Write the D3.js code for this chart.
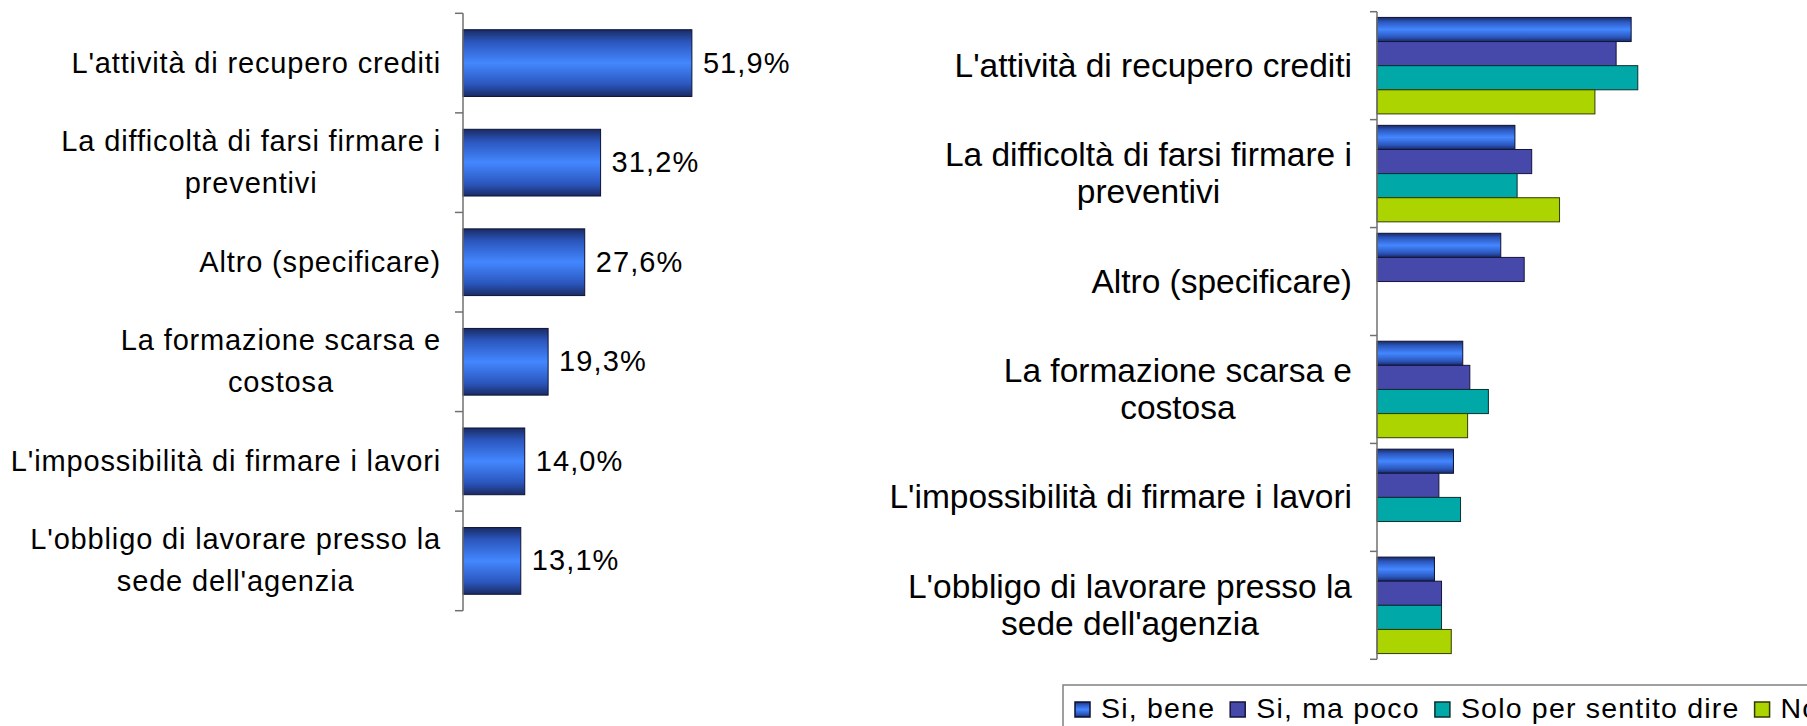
<!DOCTYPE html>
<html>
<head>
<meta charset="utf-8">
<script src="https://cdn.jsdelivr.net/npm/d3@7"></script>
<style>
  body { margin: 0; background: #fff; }
  svg { display: block; font-family: "Liberation Sans", Arial, sans-serif; }
</style>
</head>
<body>
<svg id="svg1" width="1807" height="726"></svg>
<script>
// categories (same for both charts), "\n" = line break in the label
var categories = [
  "L'attività di recupero crediti",
  "La difficoltà di farsi firmare i\npreventivi",
  "Altro (specificare)",
  "La formazione scarsa e\ncostosa",
  "L'impossibilità di firmare i lavori",
  "L'obbligo di lavorare presso la\nsede dell'agenzia"
];

// left chart: totals
var totals = [51.9, 31.2, 27.6, 19.3, 14.0, 13.1];

// right chart: one array per series (null = no bar)
var seriesNames = ["Si, bene", "Si, ma poco", "Solo per sentito dire", "No"];
var siBene      = [57.5, 31.2, 28.0, 19.4, 17.3, 13.0];
var siMaPoco    = [54.1, 35.0, 33.3, 21.0, 14.0, 14.6];
var soloSentito = [59.0, 31.7, null, 25.2, 18.9, 14.6];
var nonSo       = [49.3, 41.3, null, 20.5, null, 16.8];

var seriesValues = [siBene, siMaPoco, soloSentito, nonSo];
var seriesFill = ["url(#blueGrad)", "#4649a9", "#00a8a8", "#acd400"];
var seriesStroke = ["#0d1236", "#14143c", "#0a3030", "#333a00"];

var itFormat = d3.formatLocale({decimal: ",", thousands: ".", grouping: [3], currency: ["€", ""]}).format(".1f");

var svg = d3.select('svg');

// gradient used by the blue bars
var defs = svg.append('defs');
var grad = defs.append('linearGradient')
    .attr('id', 'blueGrad')
    .attr('x1', 0).attr('y1', 0).attr('x2', 0).attr('y2', 1);
[[0, '#1a2b63'], [0.18, '#2b56bd'], [0.5, '#4387ff'], [0.82, '#2b56bd'], [1, '#1a2b63']].forEach(function(s){
  grad.append('stop').attr('offset', s[0]).attr('stop-color', s[1]);
});

// category labels: block right aligned at xEnd, lines centred inside the block
function drawCategoryLabels(g, y, xEnd, fontSize, lineGap, spacing) {
  categories.forEach(function(c){
    var lines = c.split('\n');
    var center = y(c) + y.bandwidth() / 2;
    var texts = lines.map(function(line, j){
      return g.append('text')
        .attr('y', center + 0.33 * fontSize + (j - (lines.length - 1) / 2) * lineGap)
        .attr('text-anchor', 'middle')
        .attr('font-size', fontSize)
        .attr('letter-spacing', spacing)
        .attr('fill', '#000')
        .text(line);
    });
    var maxW = d3.max(texts, function(t){ return t.node().getComputedTextLength(); });
    texts.forEach(function(t){ t.attr('x', xEnd - maxW / 2); });
  });
}

function drawAxis(g, x0, y, tickLen) {
  var r = y.range();
  var step = (r[1] - r[0]) / categories.length;
  g.append('line')
    .attr('x1', x0).attr('x2', x0)
    .attr('y1', r[0]).attr('y2', r[1])
    .attr('stroke', '#707070').attr('stroke-width', 1.5);
  d3.range(categories.length + 1).forEach(function(i){
    g.append('line')
      .attr('x1', x0 - tickLen).attr('x2', x0)
      .attr('y1', r[0] + i * step).attr('y2', r[0] + i * step)
      .attr('stroke', '#707070').attr('stroke-width', 1.5);
  });
}

// ---------- left chart ----------
var left = svg.append('g');

var xL = d3.scaleLinear().domain([0, 100]).range([463, 904]);
var yL = d3.scaleBand()
    .domain(categories)
    .range([13.3, 610.7])
    .paddingInner(0.33)
    .paddingOuter(0.165);

left.selectAll('rect.bar')
    .data(totals)
    .enter()
    .append('rect')
    .attr('class', 'bar')
    .attr('x', xL(0))
    .attr('y', function(d, i){ return yL(categories[i]); })
    .attr('width', function(d){ return xL(d) - xL(0); })
    .attr('height', yL.bandwidth())
    .attr('fill', 'url(#blueGrad)')
    .attr('stroke', '#0d1236')
    .attr('stroke-width', 1);

left.selectAll('text.val')
    .data(totals)
    .enter()
    .append('text')
    .attr('class', 'val')
    .attr('x', function(d){ return xL(d) + 11; })
    .attr('y', function(d, i){ return yL(categories[i]) + yL.bandwidth() / 2 + 0.33 * 29; })
    .attr('font-size', 29)
    .attr('letter-spacing', 1.1)
    .text(function(d){ return itFormat(d) + '%'; });

drawAxis(left, xL(0), yL, 8);
drawCategoryLabels(left, yL, 441, 29, 42, 0.85);

// ---------- right chart ----------
var right = svg.append('g');

var xR = d3.scaleLinear().domain([0, 100]).range([1377, 1819]);
var yR = d3.scaleBand()
    .domain(categories)
    .range([11.7, 659.3])
    .paddingInner(0.106)
    .paddingOuter(0.053);
var ySub = d3.scaleBand()
    .domain(seriesNames)
    .range([0, yR.bandwidth()]);

seriesNames.forEach(function(name, s){
  right.selectAll('rect.s' + s)
      .data(seriesValues[s].map(function(v, i){ return {v: v, c: categories[i]}; })
            .filter(function(d){ return d.v != null; }))
      .enter()
      .append('rect')
      .attr('class', 's' + s)
      .attr('x', xR(0))
      .attr('y', function(d){ return yR(d.c) + ySub(name); })
      .attr('width', function(d){ return xR(d.v) - xR(0); })
      .attr('height', ySub.bandwidth())
      .attr('fill', seriesFill[s])
      .attr('stroke', seriesStroke[s])
      .attr('stroke-width', 1);
});

drawAxis(right, xR(0), yR, 7);
drawCategoryLabels(right, yR, 1352, 33.5, 37.6, 0);

// ---------- legend ----------
var legend = svg.append('g');
legend.append('rect')
    .attr('x', 1063).attr('y', 685)
    .attr('width', 800).attr('height', 80)
    .attr('fill', '#fff')
    .attr('stroke', '#808080')
    .attr('stroke-width', 1.5);

var lx = 1075;
seriesNames.forEach(function(name, s){
  legend.append('rect')
    .attr('x', lx).attr('y', 702)
    .attr('width', 15).attr('height', 15)
    .attr('fill', seriesFill[s])
    .attr('stroke', seriesStroke[s])
    .attr('stroke-width', 1.5);
  var t = legend.append('text')
    .attr('x', lx + 26)
    .attr('y', 718.3)
    .attr('font-size', 28.5)
    .attr('letter-spacing', 1.2)
    .text(name);
  lx = lx + 26 + t.node().getComputedTextLength() + 15;
});
</script>
</body>
</html>
